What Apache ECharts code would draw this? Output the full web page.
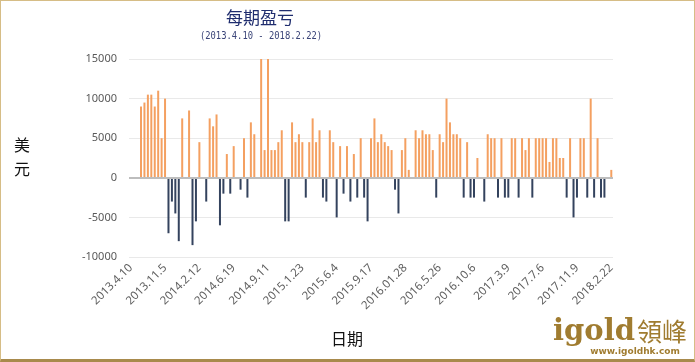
<!DOCTYPE html>
<html>
<head>
<meta charset="utf-8">
<script src="https://cdn.jsdelivr.net/npm/echarts@6/dist/echarts.min.js"></script>
<style>
html,body{margin:0;padding:0;background:#fff;}
#wrap{position:relative;width:695px;height:362px;}
#chart{width:695px;height:362px;}
#frame{position:absolute;left:0;top:0;width:695px;height:362px;box-sizing:border-box;
 border:1px solid #d6bd86;border-bottom:3px solid #a88a4c;pointer-events:none;}
</style>
</head>
<body>
<div id="wrap"><div id="chart"></div><div id="frame"></div></div>
<script>
// Tick labels (every 10th period)
const tickLabels = ['2013.4.10','2013.11.5','2014.2.12','2014.6.19','2014.9.11','2015.1.23','2015.6.4','2015.9.17','2016.01.28','2016.5.26','2016.10.6','2017.3.9','2017.7.6','2017.11.9','2018.2.22'];

// Profit / loss per period (USD)
const profit = [
  0, 0, 0, 9000, 9500, 10500, 10500, 9000, 11000, 5000,
  10000, -7000, -3000, -4500, -8000, 7500, 0, 8500, -8500, -5500,
  4500, 0, -3000, 7500, 6500, 8000, -6000, -2000, 3000, -2000,
  4000, 0, -1500, 5000, -2500, 7000, 5500, 0, 15000, 3500,
  15000, 3500, 3500, 4500, 6000, -5500, -5500, 7000, 4500, 5500,
  4500, -2500, 4500, 7500, 4500, 6000, -2500, -3000, 6000, 4500,
  -5000, 4000, -2000, 4000, -3000, 3000, -2500, 5000, -2500, -5500,
  5000, 7500, 4500, 5500, 4500, 4000, 3500, -1500, -4500, 3500,
  5000, 1000, 0, 6000, 5000, 6000, 5500, 5500, 3500, -2500,
  5500, 4500, 10000, 7000, 5500, 5500, 5000, -2500, 4500, -2500,
  -2500, 2500, 0, -3000, 5500, 5000, 5000, -2500, 5000, -2500,
  -2500, 5000, 5000, -2500, 5000, 3500, 5000, -2500, 5000, 5000,
  5000, 5000, 2000, 5000, 5000, 2500, 2500, -2500, 5000, -5000,
  -2500, 5000, 5000, -2500, 10000, -2500, 5000, -2500, -2500, 0,
  1000
];

const labelStep = 10;
const categories = profit.map((v, i) => (i % labelStep === 0 ? tickLabels[i / labelStep] : ''));

const chart = echarts.init(document.getElementById('chart'), null, {renderer: 'canvas'});
chart.setOption({
  backgroundColor: '#fff',
  animation: false,
  grid: {left: 129, right: 82, top: 59, bottom: 105},
  xAxis: {
    type: 'category',
    data: categories,
    axisLine: {show: false, onZero: false},
    axisTick: {show: false},
    splitLine: {show: false},
    axisLabel: {
      interval: labelStep - 1,
      rotate: 45,
      margin: 9,
      color: '#606060',
      fontSize: 11.5,
      fontFamily: 'Noto Sans'
    }
  },
  yAxis: {
    type: 'value',
    min: -10000,
    max: 15000,
    interval: 5000,
    axisLine: {show: false},
    axisTick: {show: false},
    axisLabel: {color: '#595959', fontSize: 11, fontFamily: 'Noto Sans', margin: 12,
      formatter: function (v) { return String(v); }},
    splitLine: {lineStyle: {color: '#e9e9e9', width: 1}}
  },
  series: [{
    type: 'bar',
    data: profit,
    barWidth: 2,
    itemStyle: {
      color: function (p) { return p.value >= 0 ? '#F4A061' : '#34435E'; }
    },
    markLine: {
      silent: true,
      symbol: 'none',
      label: {show: false},
      lineStyle: {color: '#bdbdbd', width: 2, type: 'solid'},
      data: [{yAxis: 0}]
    }
  }],
  graphic: [
    {type: 'text', x: 260, y: 18, style: {text: '每期盈亏', fill: '#1f2d6e', font: '17px "Noto Sans CJK SC"', textAlign: 'center', textVerticalAlign: 'middle'}},
    {type: 'text', x: 261, y: 36, scaleX: 0.84, style: {text: '(2013.4.10 - 2018.2.22)', fill: '#3a4478', font: '10.5px "DejaVu Sans Mono"', textAlign: 'center', textVerticalAlign: 'middle'}},
    {type: 'text', x: 22, y: 157, style: {text: '美\n元', fill: '#111', font: '16px "Noto Sans CJK SC"', lineHeight: 24, textAlign: 'center', textVerticalAlign: 'middle'}},
    {type: 'text', x: 347, y: 339, style: {text: '日期', fill: '#111', font: '16px "Noto Sans CJK SC"', textAlign: 'center', textVerticalAlign: 'middle'}},
    {type: 'text', x: 553, y: 332, style: {text: 'igold', fill: '#a07c30', font: 'bold 29px "DejaVu Serif"', textAlign: 'left', textVerticalAlign: 'middle'}},
    {type: 'text', x: 662, y: 331, style: {text: '領峰', fill: '#a07c30', font: '25px "Noto Sans CJK TC"', textAlign: 'center', textVerticalAlign: 'middle'}},
    {type: 'text', x: 635, y: 352, style: {text: 'www.igoldhk.com', fill: '#a07c30', font: 'bold 9px "DejaVu Sans"', textAlign: 'center', textVerticalAlign: 'middle'}}
  ]
});
</script>
</body>
</html>
